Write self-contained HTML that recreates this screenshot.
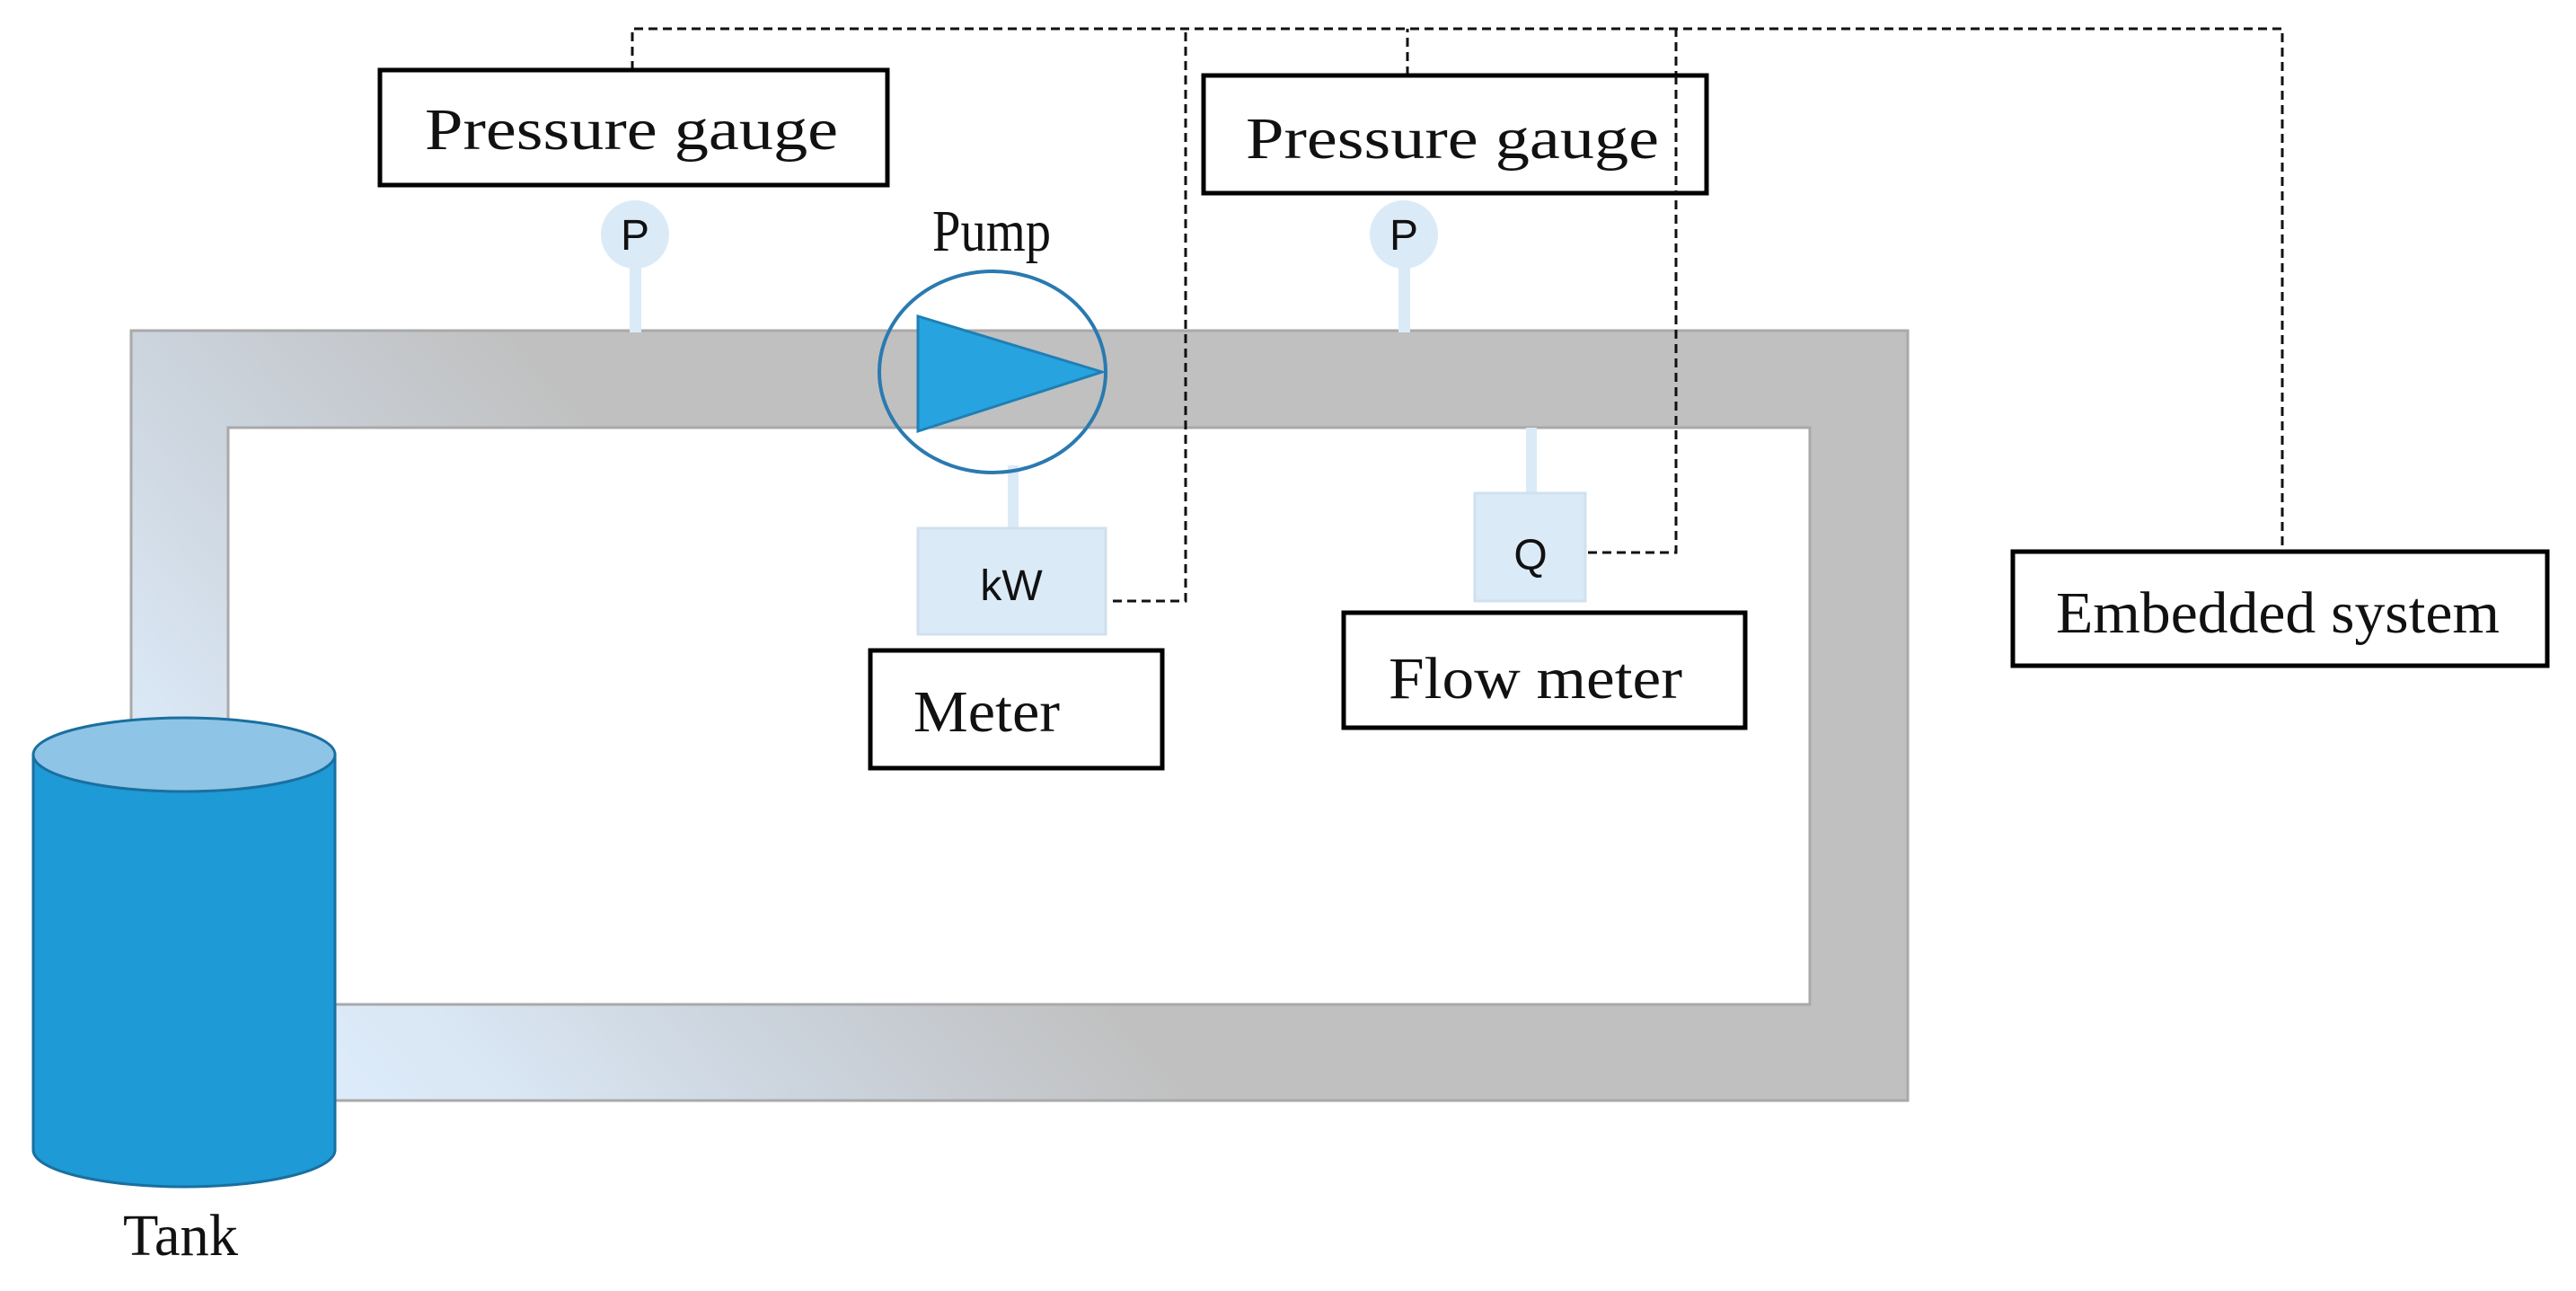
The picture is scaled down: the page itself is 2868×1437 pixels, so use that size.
<!DOCTYPE html>
<html><head><meta charset="utf-8"><style>html,body{margin:0;padding:0;background:#fff}svg{display:block}</style></head>
<body>
<svg width="2868" height="1437" viewBox="0 0 2868 1437" xmlns="http://www.w3.org/2000/svg">
<defs>
<linearGradient id="pg" gradientUnits="userSpaceOnUse" x1="450" y1="1280" x2="1100" y2="700">
<stop offset="0" stop-color="#dcebfa"/><stop offset="0.15" stop-color="#d9e6f3"/><stop offset="0.45" stop-color="#cbd3dc"/><stop offset="0.8" stop-color="#c0c0c0"/><stop offset="1" stop-color="#c0c0c0"/>
</linearGradient>
</defs>
<path d="M146 368 H2124 V1225 H146 Z M254 476 V1118 H2015 V476 Z" fill="url(#pg)" fill-rule="evenodd" stroke="#a9a9a9" stroke-width="3"/>
<g fill="none" stroke="#111" stroke-width="3" stroke-dasharray="10,6">
<path d="M704 78 V32 H2541 V614"/>
<path d="M1239 669 H1320 V32"/>
<path d="M1567 84 V32"/>
<path d="M1768 615 H1866 V32"/>
</g>
<g fill="#fff" stroke="#000" stroke-width="5">
<rect x="423" y="78" width="565" height="128"/>
<rect x="1340" y="84" width="560" height="131"/>
<rect x="969" y="724" width="325" height="131"/>
<rect x="1496" y="682" width="447" height="128"/>
<rect x="2241" y="614" width="595" height="127"/>
</g>
<path d="M1866 84 V215" fill="none" stroke="#111" stroke-width="3" stroke-dasharray="10,6"/>
<g font-family="'Liberation Serif',serif" font-size="66" fill="#111">
<text x="473" y="166" textLength="460" lengthAdjust="spacingAndGlyphs">Pressure gauge</text>
<text x="1387" y="176" textLength="460" lengthAdjust="spacingAndGlyphs">Pressure gauge</text>
<text x="1038" y="279" textLength="132" lengthAdjust="spacingAndGlyphs">Pump</text>
<text x="1017" y="814" textLength="163" lengthAdjust="spacingAndGlyphs">Meter</text>
<text x="1546" y="777" textLength="327" lengthAdjust="spacingAndGlyphs">Flow meter</text>
<text x="2289" y="704" textLength="494" lengthAdjust="spacingAndGlyphs">Embedded system</text>
<text x="137" y="1397" textLength="128" lengthAdjust="spacingAndGlyphs">Tank</text>
</g>
<g fill="#dbeaf7">
<rect x="701" y="290" width="13" height="80"/>
<rect x="1557" y="290" width="13" height="80"/>
<circle cx="707" cy="261" r="38"/>
<circle cx="1563" cy="261" r="38"/>
<rect x="1122" y="518" width="12" height="72"/>
<rect x="1699" y="476" width="12" height="73"/>
<rect x="1022" y="588" width="209" height="118" stroke="#cfe0ef" stroke-width="3"/>
<rect x="1642" y="549" width="123" height="120" stroke="#cfe0ef" stroke-width="3"/>
</g>
<g font-family="'Liberation Sans',sans-serif" font-size="48" fill="#111" text-anchor="middle">
<text x="707" y="278">P</text>
<text x="1563" y="278">P</text>
<text x="1126" y="668">kW</text>
<text x="1704" y="634">Q</text>
</g>
<ellipse cx="1105" cy="414" rx="126" ry="112" fill="none" stroke="#2a7ab0" stroke-width="4"/>
<polygon points="1022,352 1022,480 1227,414" fill="#27a4e0" stroke="#1f7fb5" stroke-width="3"/>
<path d="M37 840 V1280 A168 41 0 0 0 373 1280 V840 Z" fill="#1e9ad6" stroke="#1a6f9f" stroke-width="3"/>
<ellipse cx="205" cy="840" rx="168" ry="41" fill="#8ec4e6" stroke="#1a6f9f" stroke-width="3"/>
</svg>
</body></html>
